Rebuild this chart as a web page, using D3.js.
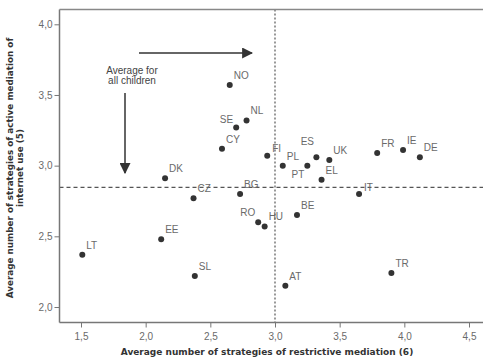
<!DOCTYPE html>
<html><head><meta charset="utf-8">
<script src="https://cdn.jsdelivr.net/npm/d3@7/dist/d3.min.js"></script>
<style>body{margin:0;background:#fff}svg{display:block}</style>
</head><body>
<svg id="c" width="483" height="359"></svg>
<script>
const countries = ["NO","NL","SE","CY","FI","PL","ES","PT","UK","EL","IT","FR","IE","DE","DK","CZ","BG","EE","LT","SL","RO","HU","BE","AT","TR"];
const restrictive = [2.65,2.78,2.70,2.59,2.94,3.06,3.32,3.25,3.42,3.36,3.65,3.79,3.99,4.12,2.15,2.37,2.73,2.12,1.51,2.38,2.87,2.92,3.17,3.08,3.90];
const active = [3.57,3.32,3.27,3.12,3.07,3.00,3.06,3.00,3.04,2.90,2.80,3.09,3.11,3.06,2.91,2.77,2.80,2.48,2.37,2.22,2.60,2.57,2.65,2.15,2.24];
const xTicks = [1.5,2.0,2.5,3.0,3.5,4.0,4.5];
const yTicks = [2.0,2.5,3.0,3.5,4.0];
const avgRestrictive = 3.0;
const avgActive = 2.846;
const xTitle = "Average number of strategies of restrictive mediation (6)";
const yTitle = ["Average number of strategies of active mediation of","internet use (5)"];
const noteLines = ["Average for","all children"];

// label placement tweaks (style, not data)
const place = {SE:[-3,-4,"end"],ES:[-9,-12,"middle"],PT:[-3,12,"end"],RO:[-3,-6,"end"],FI:[5,-4,"start"],IT:[5,-3,"start"]};

const svg = d3.select("#c");
const L=59.5, T=9.5, B=322.5, R=483;
const x = d3.scaleLinear().domain([1.5,4.5]).range([81,469]);
const y = d3.scaleLinear().domain([2.0,4.0]).range([307,24.3]);
const fmt = d => d3.format(".1f")(d).replace(".",",");
const grey="#6a6a6a";

// dashed reference lines
svg.append("line").attr("x1",L).attr("x2",R).attr("y1",y(avgActive)).attr("y2",y(avgActive))
  .attr("stroke","#555").attr("stroke-width",1.2).attr("stroke-dasharray","4,3");
svg.append("line").attr("x1",x(avgRestrictive)).attr("x2",x(avgRestrictive)).attr("y1",T).attr("y2",B)
  .attr("stroke","#555").attr("stroke-width",1.2).attr("stroke-dasharray","2,2");

// axes
const xAxis = svg.append("g").attr("transform",`translate(0,${B})`)
  .call(d3.axisBottom(x).tickValues(xTicks).tickFormat(fmt).tickSize(5).tickSizeOuter(0));
const yAxis = svg.append("g").attr("transform",`translate(${L},0)`)
  .call(d3.axisLeft(y).tickValues(yTicks).tickFormat(fmt).tickSize(5).tickSizeOuter(0));
[xAxis,yAxis].forEach(g=>{
  g.select(".domain").remove();
  g.selectAll("line").attr("stroke","#777");
  g.selectAll("text").attr("fill",grey).attr("font-family","Liberation Sans, Arial, sans-serif").attr("font-size",10);
});
xAxis.selectAll("text").attr("dy","0.9em");
yAxis.selectAll("text").attr("dx","0.1em");

// frame
svg.append("line").attr("x1",L).attr("x2",L).attr("y1",T).attr("y2",B).attr("stroke","#777").attr("stroke-width",1.5);
svg.append("line").attr("x1",L).attr("x2",R).attr("y1",T).attr("y2",T).attr("stroke","#888").attr("stroke-width",1.5);
svg.append("line").attr("x1",L).attr("x2",R).attr("y1",B).attr("y2",B).attr("stroke","#777").attr("stroke-width",1.5);

// points
const data = countries.map((c,i)=>({c, x:restrictive[i], y:active[i]}));
svg.append("g").selectAll("circle").data(data).join("circle")
  .attr("cx",d=>x(d.x)).attr("cy",d=>y(d.y)).attr("r",3).attr("fill","#333");
svg.append("g").selectAll("text").data(data).join("text")
  .attr("x",d=>x(d.x)+(place[d.c]?place[d.c][0]:4))
  .attr("y",d=>y(d.y)+(place[d.c]?place[d.c][1]:-6))
  .attr("text-anchor",d=>place[d.c]?place[d.c][2]:"start")
  .attr("font-family","Liberation Sans, Arial, sans-serif").attr("font-size",10).attr("fill",grey)
  .text(d=>d.c);

// arrows
const defs = svg.append("defs");
defs.append("marker").attr("id","ah").attr("viewBox","0 0 10 10").attr("refX",9).attr("refY",5)
  .attr("markerWidth",11).attr("markerHeight",11).attr("markerUnits","userSpaceOnUse").attr("orient","auto")
  .append("path").attr("d","M0,0L10,5L0,10Z").attr("fill","#333");
svg.append("line").attr("x1",139).attr("x2",252).attr("y1",53).attr("y2",53)
  .attr("stroke","#333").attr("stroke-width",1.5).attr("marker-end","url(#ah)");
svg.append("line").attr("x1",125).attr("x2",125).attr("y1",93).attr("y2",173)
  .attr("stroke","#333").attr("stroke-width",1.5).attr("marker-end","url(#ah)");
svg.append("text").attr("x",132).attr("y",74).attr("text-anchor","middle")
  .attr("font-family","Liberation Sans, Arial, sans-serif").attr("font-size",10).attr("fill","#444")
  .selectAll("tspan").data(noteLines).join("tspan").attr("x",132).attr("dy",(d,i)=>i?10:0).text(d=>d);

// titles
svg.append("text").attr("x",267).attr("y",355).attr("text-anchor","middle")
  .attr("font-family","DejaVu Sans, Verdana, sans-serif").attr("font-weight","bold").attr("font-size",9).attr("fill","#333")
  .text(xTitle);
svg.append("text").attr("transform","translate(0,168) rotate(-90)").attr("text-anchor","middle")
  .attr("font-family","DejaVu Sans, Verdana, sans-serif").attr("font-weight","bold").attr("font-size",8.8).attr("fill","#333")
  .selectAll("tspan").data(yTitle).join("tspan").attr("x",0).attr("y",(d,i)=>13+i*9.5).text(d=>d);
</script>
</body></html>
